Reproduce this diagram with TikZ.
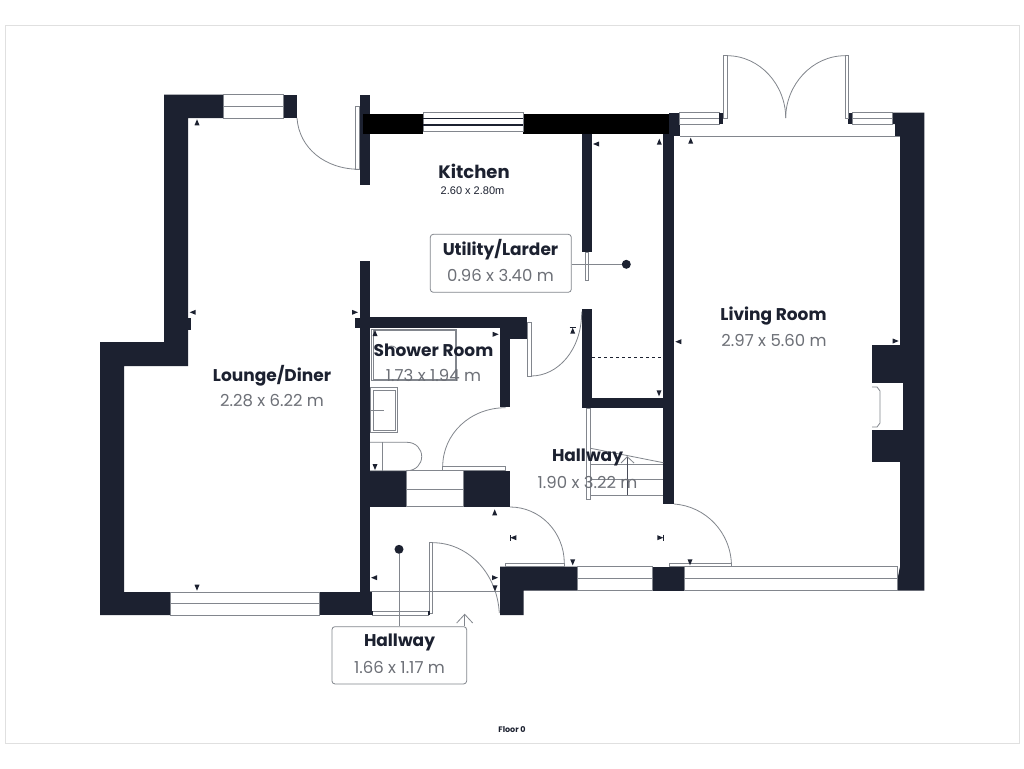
\documentclass[tikz,border=0pt]{standalone}
\usepackage{fontspec}
\setmainfont{Poppins}
\newfontfamily\plainfont{Liberation Sans}
\definecolor{wallnavy}{HTML}{1C2130}
\definecolor{linegray}{HTML}{82868D}
\definecolor{dimgray}{HTML}{6D7077}
\tikzset{
  wall/.style={fill=wallnavy},
  blackwall/.style={fill=black},
  glass/.style={draw=linegray,fill=white,line width=.8pt},
  thin line/.style={draw=linegray,line width=.8pt},
  dark line/.style={draw=wallnavy!80!white,line width=.8pt},
  roomname/.style={font=\fontsize{17}{17}\selectfont\bfseries,text=wallnavy,inner sep=0pt},
  roomsize/.style={font=\fontsize{16.5}{17}\selectfont,text=dimgray,inner sep=0pt},
  labelbox/.style={draw=linegray,line width=.8pt,rounded corners=3pt,fill=white,inner sep=0pt},
  leaderdot/.style={circle,fill=wallnavy,inner sep=0pt,minimum size=9pt},
}
\newcommand\roommark[3]{\fill[wallnavy,shift={(#1,#2)},rotate=#3] (0,-3) -- (2.5,3) -- (-2.5,3) -- cycle;}
\newcommand\barmark[3]{\fill[wallnavy,shift={(#1,#2)},rotate=#3] (0,-3) -- (2.5,3) -- (-2.5,3) -- cycle; \draw[wallnavy,line width=.6pt,shift={(#1,#2)},rotate=#3] (-3,-3) -- (3,-3);}
\begin{document}
\begin{tikzpicture}[x=1pt, y=-1pt]
\useasboundingbox (0,0) rectangle (1024,768);
% Page
\fill[white] (0,0) rectangle (1024,768);
\draw[black!12,line width=.8pt] (5,25) rectangle (1019,743);

% Lounge walls
\fill[wall] (164,94.5) -- (223,94.5) -- (223,118) -- (188,118) -- (188,366) -- (124,366) -- (124,592) -- (170,592) -- (170,615) -- (100,615) -- (100,342) -- (164,342) -- cycle;
\fill[wall] (283,94.5) rectangle (297,118);
\fill[wall] (188,318) rectangle (190.5,330);
\fill[wall] (319.5,592) rectangle (372,615);
\fill[wall] (359.5,94.5) rectangle (370,185);
\fill[wall] (359.5,261) rectangle (370,615);
\fill[wall] (355,318) rectangle (360,328);

% Kitchen and larder walls
\fill[blackwall] (363,113.5) rectangle (423,134);
\fill[blackwall] (523,113.5) rectangle (669,134);
\fill[wall] (669,112.5) rectangle (680,136);
\fill[wall] (581.7,134) rectangle (592,252);
\fill[wall] (581.7,308.7) rectangle (592,408);
\fill[wall] (581.7,398) rectangle (674,408);
\fill[wall] (663.3,134) rectangle (674,504);

% Shower room walls
\fill[wall] (359.5,317.3) rectangle (527,328.3);
\fill[wall] (500,317.3) rectangle (527,338.7);
\fill[wall] (500,317.3) rectangle (510,407.3);
\fill[wall] (370,470.7) rectangle (406.7,506.7);
\fill[wall] (463.3,470.7) rectangle (510,506.7);

% Front walls
\fill[wall] (500,566.7) -- (577,566.7) -- (577,590.7) -- (523.5,590.7) -- (523.5,615) -- (500,615) -- cycle;
\fill[wall] (652,566.7) rectangle (684,590.7);
\fill[wall] (892,112.5) -- (924.3,112.5) -- (924.3,590.7) -- (897.3,590.7) -- (897.3,580) -- (900,566.7) -- (900,136) -- (895,136) -- (895,124) -- (892,124) -- cycle;
\fill[wall] (871.7,345) rectangle (900,461.7);
\fill[white] (871.7,382.7) rectangle (903.3,430);
\draw[thin line] (872,387) -- (877,387) -- (880,391) -- (880,423) -- (877,427) -- (872,427);

% Windows
\draw[glass] (223,94.5) rectangle (283,118);
\draw[thin line] (223,106) -- (283,106);
\draw[glass] (170,592) rectangle (319.5,615);
\draw[thin line] (170,603.5) -- (319.5,603.5);
\draw[glass] (423,112.5) rectangle (523,131.5);
\draw[wallnavy,line width=1.6pt] (423,118.5) -- (523,118.5);
\draw[wallnavy,line width=1.6pt] (423,125) -- (523,125);
\draw[glass] (406.7,470.7) rectangle (463.3,506.7);
\draw[thin line] (406.7,489) -- (463.3,489);
\draw[glass] (577,566.7) rectangle (652,590.7);
\draw[thin line] (577,578.5) -- (652,578.5);
\draw[glass] (684,566.7) rectangle (897.3,590.7);
\draw[thin line] (684,578.5) -- (897.3,578.5);
\draw[glass] (679.5,112.5) rectangle (719.3,124);
\draw[thin line] (679.5,118.3) -- (719.3,118.3);
\draw[glass] (852,112.5) rectangle (892,124);
\draw[thin line] (852,118.3) -- (892,118.3);
\fill[wall] (719.3,112.5) rectangle (723.3,124);
\fill[wall] (848.3,112.5) rectangle (852,124);
\draw[thin line] (680,136) -- (900,136);
\draw[thin line] (370,591.7) -- (500,591.7);

% Doors
\draw[thin line] (723.3,55.7) rectangle (727,118);
\draw[thin line] (845,55.7) rectangle (848.7,118);
\draw[thin line] (727,55.7) .. controls (760,55.7) and (785.7,85) .. (785.7,118);
\draw[thin line] (845,55.7) .. controls (812,55.7) and (785.7,85) .. (785.7,118);
\draw[thin line] (355.7,106) rectangle (359.5,169.3);
\draw[thin line] (297,118) .. controls (299,148) and (325,169.3) .. (359.5,169.3);
\draw[thin line] (527.7,322) rectangle (531,376);
\draw[thin line] (531,376) .. controls (558,376) and (581.7,350) .. (581.7,311.7);
\draw[thin line] (585,252) rectangle (588.3,280);
\draw[thin line] (442.7,466.7) rectangle (505.7,470.7);
\draw[thin line] (505.7,407.7) .. controls (470,407.7) and (442.7,434) .. (442.7,466.7);
\draw[thin line] (505,563.3) rectangle (564.3,566.7);
\draw[thin line] (510,507) .. controls (540,507) and (564.3,532) .. (564.3,563.3);
\draw[thin line] (674,504) .. controls (705,506) and (731.5,532) .. (731.5,566.7);
\draw[thin line] (669,563.3) rectangle (731.5,566.7);
\draw[thin line] (429.3,542.7) rectangle (432.7,613);
\draw[thin line] (432.7,542.7) .. controls (467,542.7) and (497,572) .. (499.3,613);
\draw[glass] (372,611) rectangle (428.5,615);
\fill[wall] (370,610.5) rectangle (372.5,615);
\fill[wall] (428,610.5) rectangle (430,615);

% Shower and basin
\draw[thin line] (371.7,329) rectangle (456.7,380.7);
\draw[thin line] (373,330.5) rectangle (455,379);
\draw[thin line] (385.5,352) arc[start angle=180,end angle=360,radius=6];
\draw[thin line] (370.7,387.7) rectangle (397.3,432.3);
\draw[thin line] (373,390) rectangle (395,430);
\draw[thin line] (370,410) -- (384,410);
\draw[thin line] (370,442.3) -- (407,442.3) .. controls (416,442.3) and (421.7,449) .. (421.7,456.5) .. controls (421.7,464) and (416,470.7) .. (407,470.7) -- (370,470.7);
\draw[thin line] (382.3,442.3) -- (382.3,470.7);

% Stairs
\draw[thin line] (586.7,408) rectangle (590.7,499.3);
\draw[thin line] (590.7,448.3) -- (663.3,462.7);
\draw[thin line] (590.7,464) -- (663.3,464);
\draw[thin line] (590.7,479.3) -- (663.3,479.3);
\draw[thin line] (590.7,495) -- (663.3,495);
\draw[dark line] (627.3,495) -- (627.3,457);
\draw[thin line] (621,463) -- (627.3,456.7) -- (634,463);
\draw[wallnavy,dashed,line width=.9pt] (592,357.3) -- (663.3,357.3);

% Markers
\roommark{197}{122.3}{0}
\roommark{192.7}{312.3}{90}
\roommark{355}{312.3}{-90}
\roommark{596}{144}{90}
\roommark{659.3}{141.7}{0}
\roommark{690.7}{140.7}{0}
\roommark{375}{333}{0}
\roommark{495.7}{334.3}{-90}
\barmark{572.7}{330.7}{0}
\roommark{678.3}{341.7}{90}
\roommark{659}{393.3}{180}
\roommark{375}{467}{180}
\roommark{494.7}{512.3}{0}
\barmark{513.3}{537.7}{90}
\barmark{660.3}{537.7}{-90}
\roommark{572.7}{562.3}{180}
\roommark{495}{577.7}{-90}
\roommark{495}{588.3}{180}
\roommark{374}{577.7}{90}
\roommark{895.7}{341}{-90}
\roommark{690}{562.3}{180}
\roommark{197}{587.7}{180}

% Room labels
\node[roomname,font=\fontsize{18}{18}\selectfont\bfseries] (kitchenname) at (474,171) {Kitchen};
\node[inner sep=0pt,text=wallnavy,font=\plainfont\fontsize{11}{11}\selectfont] (kitchensize) at (472.5,190.5) {2.60 x 2.80m};
\node[roomname] (loungename) at (272,376) {Lounge/Diner};
\node[roomsize] (loungesize) at (272,401) {2.28 x 6.22 m};
\node[roomname] (showername) at (433.5,350) {Shower Room};
\node[roomsize] (showersize) at (433.5,375) {1.73 x 1.94 m};
\node[roomname] (livingname) at (773.5,316) {Living Room};
\node[roomsize] (livingsize) at (774,340) {2.97 x 5.60 m};
\node[roomname] (hallname) at (587.5,457) {Hallway};
\node[roomsize] (hallsize) at (587.5,482) {1.90 x 3.22 m};

% Label boxes
\node[labelbox,minimum width=141pt,minimum height=58pt] (utilitybox) at (500.8,263.3) {};
\node[roomname] (utilityname) at (500.5,250) {Utility/Larder};
\node[roomsize] (utilitysize) at (500.5,275) {0.96 x 3.40 m};
\node[leaderdot] (utilitydot) at (626.3,264.3) {};
\draw[thin line] (utilitybox.east |- utilitydot) -- (utilitydot);
\node[labelbox,minimum width=134.7pt,minimum height=57.3pt] (entrybox) at (399.3,655.3) {};
\node[roomname] (entryname) at (399.5,642) {Hallway};
\node[roomsize] (entrysize) at (399.5,667) {1.66 x 1.17 m};
\node[leaderdot] (entrydot) at (399,549.3) {};
\draw[thin line] (entrydot) -- (entrydot |- entrybox.north);
\coordinate (entrytip) at (464.7,614.3);
\draw[thin line] (entrytip) -- (entrytip |- entrybox.north);
\draw[thin line] (456.7,623) -- (entrytip) -- (472.7,623);

% Floor label
\node[inner sep=0pt,text=wallnavy,font=\fontsize{8}{8}\selectfont\bfseries] (floorname) at (512,729.5) {Floor 0};
\end{tikzpicture}
\end{document}
